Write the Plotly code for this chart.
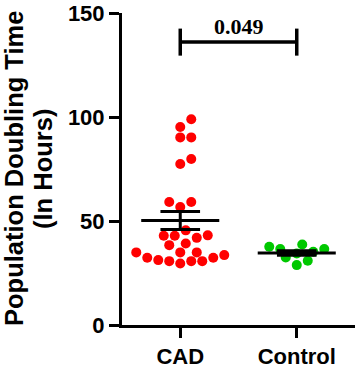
import numpy as np
import plotly.graph_objects as go

# ---- data ----
categories = ["CAD", "Control"]
cad_values = [98.9, 95.2, 90.2, 90.2, 79.8, 77.4, 59.1, 59.1, 56.7, 45.5, 43.1,
              42.9, 42.9, 41.9, 39.2, 38.4, 34.9, 34.9, 34.9, 33.6, 30.7, 31.2,
              32.3, 32.3, 30.7, 30.7, 29.6]
control_values = [34.4, 38.7, 28.8, 35.2, 36.5, 30.9, 37.6, 32.5, 36.5]
p_value_text = "0.049"
y_ticks = [0, 50, 100, 150]
y_title_lines = ["Population Doubling Time", "(In Hours)"]

# ---- layout constants ----
W, H = 356, 370
ML, MR, MT, MB = 122, 1, 13, 43
XR = [-0.5, 1.5]
YR = [0, 150]
px_x = (W - ML - MR) / (XR[1] - XR[0])
px_y = (H - MT - MB) / (YR[1] - YR[0])
MARK = 10
colors = ["#FF0000", "#00C800"]
BRACKET_Y = 136
BRACKET_TICK = 6.5


def swarm(vals, diam):
    order = np.argsort(vals)
    placed = []
    offs = np.zeros(len(vals))
    step = diam * 0.55
    for i in order:
        yv = vals[i] * px_y
        k = 0
        while True:
            cands = [0.0] if k == 0 else [k * step, -k * step]
            ok = None
            for c in cands:
                if all((c - px) ** 2 + (yv - py) ** 2 >= (diam * 0.95) ** 2 for px, py in placed):
                    ok = c
                    break
            if ok is not None:
                placed.append((ok, yv))
                offs[i] = ok / px_x
                break
            k += 1
    return offs


fig = go.Figure()
groups = [cad_values, control_values]
for gi, vals in enumerate(groups):
    vals = np.array(vals)
    offs = swarm(vals, MARK)
    fig.add_trace(go.Scatter(x=gi + offs, y=vals, mode="markers",
                             marker=dict(size=MARK, color=colors[gi]),
                             showlegend=False, hoverinfo="y"))
    m = vals.mean()
    sem = vals.std(ddof=1) / np.sqrt(len(vals))
    mw, cw = 0.335, 0.17
    line = dict(color="black", width=3)
    fig.add_trace(go.Scatter(x=[gi - mw, gi + mw], y=[m, m], mode="lines",
                             line=line, showlegend=False, hoverinfo="skip"))
    fig.add_trace(go.Scatter(x=[gi - cw, gi + cw, None, gi - cw, gi + cw, None, gi, gi],
                             y=[m + sem, m + sem, None, m - sem, m - sem, None, m - sem, m + sem],
                             mode="lines", line=line, showlegend=False, hoverinfo="skip"))

# significance bracket
fig.add_trace(go.Scatter(x=[0, 0, None, 0, 1, None, 1, 1],
                         y=[BRACKET_Y - BRACKET_TICK, BRACKET_Y + BRACKET_TICK, None,
                            BRACKET_Y, BRACKET_Y, None,
                            BRACKET_Y - BRACKET_TICK, BRACKET_Y + BRACKET_TICK],
                         mode="lines", line=dict(color="black", width=3.5),
                         showlegend=False, hoverinfo="skip"))
fig.add_annotation(x=0.5, y=BRACKET_Y, text="<b>" + p_value_text + "</b>", showarrow=False,
                   yanchor="bottom", yshift=1,
                   font=dict(family="Liberation Serif, Times New Roman, serif", size=22, color="black"))

for txt, shift in zip(y_title_lines, [-108, -79]):
    fig.add_annotation(x=0, xref="paper", y=0.5, yref="paper",
                       text="<b>%s</b>" % txt,
                       textangle=-90, showarrow=False, xanchor="center", yanchor="middle",
                       xshift=shift,
                       font=dict(family="Liberation Sans, Arial, sans-serif", size=25.5, color="black"))

fig.update_layout(
    width=W, height=H,
    margin=dict(l=ML, r=MR, t=MT, b=MB, pad=0),
    plot_bgcolor="white", paper_bgcolor="white",
    font=dict(family="Liberation Sans, Arial, sans-serif", color="black"),
)
fig.update_xaxes(range=XR, tickvals=[0, 1], ticktext=["<b>%s</b>" % c for c in categories],
                 showline=True, linewidth=3, linecolor="black", ticks="outside",
                 ticklen=10, tickwidth=3, tickcolor="black", showgrid=False, zeroline=False,
                 tickfont=dict(size=22, color="black"))
fig.update_yaxes(range=YR, tickvals=y_ticks, ticktext=["<b>%d</b>" % t for t in y_ticks],
                 showline=True, linewidth=3, linecolor="black", ticks="outside",
                 ticklen=10, tickwidth=3, tickcolor="black", showgrid=False, zeroline=False,
                 tickfont=dict(size=22, color="black"))

fig.write_html("out.html", config={"displayModeBar": False},
               post_script="document.body.style.margin='0';document.body.style.overflow='hidden';")
